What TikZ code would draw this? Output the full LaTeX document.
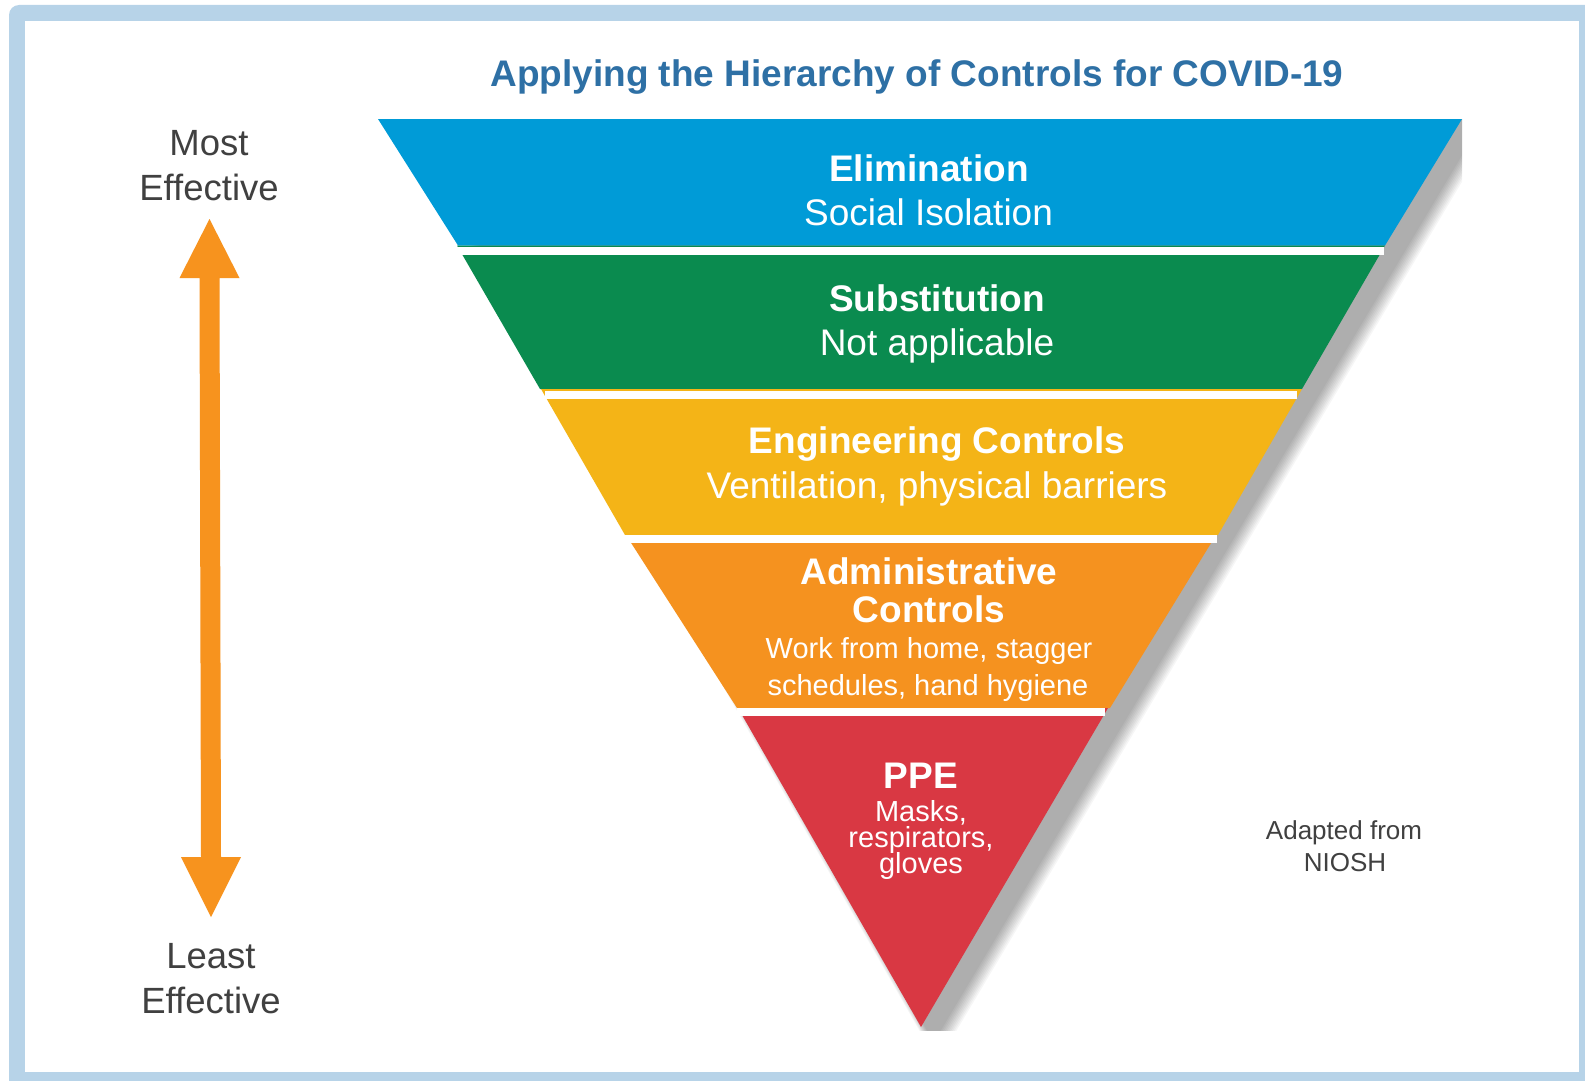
\documentclass[tikz,border=0pt]{standalone}
\usepackage{fontspec}
\setmainfont{Liberation Sans}
\usetikzlibrary{calc}
\definecolor{framecol}{HTML}{B7D3E8}
\definecolor{titlecol}{HTML}{2E70A5}
\definecolor{txtgray}{HTML}{404040}
\definecolor{elimcol}{HTML}{009BD7}
\definecolor{subscol}{HTML}{0A8B4F}
\definecolor{engcol}{HTML}{F4B417}
\definecolor{admcol}{HTML}{F5921F}
\definecolor{ppecol}{HTML}{D93843}
\definecolor{arrcol}{HTML}{F7931E}
\tikzset{
  bandhead/.style={text=white, font=\fontsize{37}{44}\selectfont\bfseries, anchor=base, inner sep=0pt},
  bandsub/.style={text=white, font=\fontsize{37}{44}\selectfont, anchor=base, inner sep=0pt},
  bandsmall/.style={text=white, font=\fontsize{29}{30}\selectfont, anchor=base, inner sep=0pt},
  sidelbl/.style={text=txtgray, font=\fontsize{36.5}{44}\selectfont, anchor=base, inner sep=0pt},
  notelbl/.style={text=txtgray, font=\fontsize{26}{31}\selectfont, anchor=base, inner sep=0pt},
  titlelbl/.style={text=titlecol, font=\fontsize{37}{44}\selectfont\bfseries, anchor=base, inner sep=0pt},
  sepbar/.style={fill=white},
}
\begin{document}
\begin{tikzpicture}[x=1pt,y=-1pt]
\useasboundingbox (0,0) rectangle (1585,1081);
% frame
\begin{scope}
  \clip (0,0) rectangle (1585,1081);
  \fill[framecol, rounded corners=10pt] (9,5) rectangle (1610,1110);
\end{scope}
\fill[white] (25,21) rectangle (1579,1072);

% shadow (soft, clipped to the picture box)
\begin{scope}
  \clip (378,119) rectangle (1462,1030);
  \foreach \o in {-6,-4.5,...,8} {
    \fill[black, opacity=0.035, xshift=0.86*\o pt, yshift=-0.51*\o pt]
      (392,100) -- (1502,100) -- (935,1052) -- cycle;
  }
\end{scope}

% bands
\fill[elimcol] (378,119) -- (1462,119) -- (1385,245.5) -- (458,245.5) -- cycle;
\fill[subscol] (457,245.5) -- (1385,245.5) -- (1302,389) -- (540,389) -- cycle;
\fill[engcol]  (541,389) -- (1302,389) -- (1218,535) -- (625,535) -- cycle;
\fill[admcol]  (626,535) -- (1216,535) -- (1110,708) -- (737,708) -- cycle;
\fill[ppecol]  (738,708) -- (1108,708) -- (921,1027) -- cycle;

% separators
\fill[sepbar] (451,247) rectangle (1384,255);
\fill[sepbar] (545,391) rectangle (1297,399);
\fill[sepbar] (625,535) rectangle (1217,543);
\fill[sepbar] (737,708) rectangle (1105,716);

% title
\node[titlelbl] (title) at (917,86) {Applying the Hierarchy of Controls for COVID-19};

% band texts
\node[bandhead] (elim) at (929,181) {Elimination};
\node[bandsub] (elimtxt) at (928.5,225) {Social Isolation};
\node[bandhead] (subs) at (937,311) {Substitution};
\node[bandsub] (substxt) at (937,355) {Not applicable};
\node[bandhead] (eng) at (937,453) {Engineering Controls};
\node[bandsub] (engtxt) at (937,498) {Ventilation, physical barriers};
\node[bandhead] (adm1) at (929,584) {Administrative};
\node[bandhead] (adm2) at (929,622) {Controls};
\node[bandsmall] (admtxt1) at (929,658) {Work from home, stagger};
\node[bandsmall] (admtxt2) at (928,695) {schedules, hand hygiene};
\node[bandhead] (ppe) at (921,788) {PPE};
\node[bandsmall] (ppetxt1) at (921,821) {Masks,};
\node[bandsmall] (ppetxt2) at (921,847) {respirators,};
\node[bandsmall] (ppetxt3) at (921,873) {gloves};

% side labels
\node[sidelbl] (most1) at (209,155) {Most};
\node[sidelbl] (most2) at (209,200) {Effective};
\node[sidelbl] (least1) at (211,968) {Least};
\node[sidelbl] (least2) at (211,1013) {Effective};
\node[notelbl] (adapt1) at (1344,839) {Adapted from};
\node[notelbl] (adapt2) at (1345,871) {NIOSH};

% double arrow
\coordinate (arrtop) at (209.5,219);
\coordinate (arrbot) at (211,917);
\fill[arrcol] (arrtop) -- (239.5,278) -- (219.5,278) -- (221,857) -- (241,857)
  -- (arrbot) -- (181,857) -- (201,857) -- (199.5,278) -- (179.5,278) -- cycle;
\end{tikzpicture}
\end{document}
